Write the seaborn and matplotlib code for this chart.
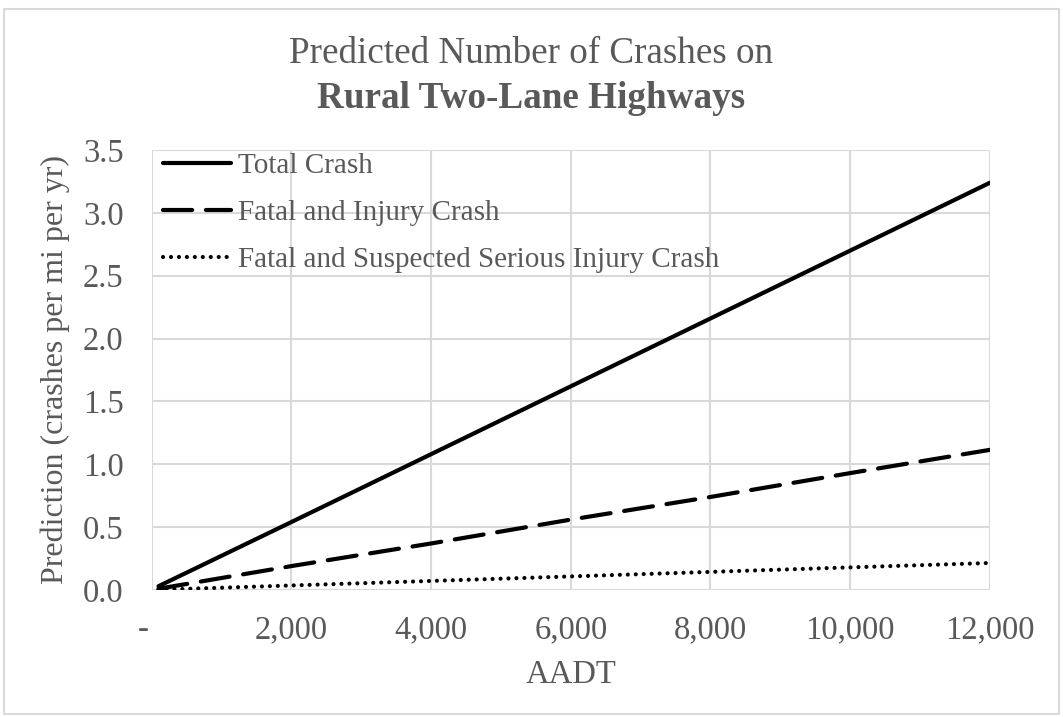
import matplotlib
matplotlib.use("Agg")
import matplotlib.pyplot as plt
import seaborn as sns
import pandas as pd
from matplotlib.patches import Rectangle
from matplotlib.ticker import FuncFormatter

aadt = [100, 2000, 4000, 6000, 8000, 10000, 12000]
total_crash = [0.03, 0.54, 1.08, 1.62, 2.16, 2.70, 3.24]
fatal_injury = [0.01, 0.19, 0.37, 0.56, 0.74, 0.93, 1.115]
fatal_serious = [0.002, 0.036, 0.072, 0.108, 0.144, 0.18, 0.215]
series_names = ["Total Crash", "Fatal and Injury Crash",
                "Fatal and Suspected Serious Injury Crash"]
x_ticks = [0, 2000, 4000, 6000, 8000, 10000, 12000]
y_ticks = [0.0, 0.5, 1.0, 1.5, 2.0, 2.5, 3.0, 3.5]

sns.set_theme(style="white")
plt.rcParams['font.family'] = ['Liberation Serif', 'DejaVu Serif']

rows = []
for name, vals in zip(series_names, [total_crash, fatal_injury, fatal_serious]):
    for x, y in zip(aadt, vals):
        rows.append({"AADT": x, "Prediction": y, "Series": name})
df = pd.DataFrame(rows)

W, H = 1063, 717
fig = plt.figure(figsize=(W / 100, H / 100), dpi=100)
ax_l, ax_r, ax_t, ax_b = 151.5, 990, 150, 590
ax = fig.add_axes([ax_l / W, 1 - ax_b / H, (ax_r - ax_l) / W, (ax_b - ax_t) / H])

txt = "#595959"
grid = "#d9d9d9"

dash_map = {series_names[0]: "", series_names[1]: (7, 3.3),
            series_names[2]: (0.01, 1.9)}
sns.lineplot(data=df, x="AADT", y="Prediction", hue="Series", style="Series",
             palette=["black"] * 3, dashes=dash_map,
             linewidth=3, ax=ax, legend=True)
for line in ax.get_lines():
    line.set_solid_capstyle("round")
    line.set_dash_capstyle("round")

ax.set_xlim(0, 12000)
ax.set_ylim(0, 3.5)
ax.set_xticks(x_ticks)
ax.set_yticks(y_ticks)
ax.xaxis.set_major_formatter(FuncFormatter(lambda v, p: "-  " if v == 0 else f"{int(v):,}"))
ax.yaxis.set_major_formatter(FuncFormatter(lambda v, p: f"{v:.1f}"))
ax.grid(True, color=grid, linewidth=1.5)
ax.set_axisbelow(True)
for s in ax.spines.values():
    s.set_visible(False)
ax.tick_params(axis="both", length=0, labelsize=23.5, colors=txt)
ax.tick_params(axis="x", pad=18)
ax.tick_params(axis="y", pad=20)

ax.set_xlabel("AADT", fontsize=23.5, color=txt, labelpad=10)
ax.set_ylabel("Prediction (crashes per mi per yr)", fontsize=23, color=txt)
ax.yaxis.set_label_coords(-0.097, 0.5)

handles, labels = ax.get_legend_handles_labels()
for h in handles:
    h.set_linewidth(3)
    h.set_dash_capstyle("round")
leg = ax.legend(handles, labels, loc="upper left", frameon=False, fontsize=21,
                handlelength=2.33, handletextpad=0.24, labelspacing=0.7,
                borderaxespad=0.0, bbox_to_anchor=(0.0, 1.02))
for t in leg.get_texts():
    t.set_color(txt)

fig.text(0.5, 1 - 63 / H, "Predicted Number of Crashes on", ha="center", va="baseline",
         fontsize=26.7, color=txt)
fig.text(0.5, 1 - 108 / H, "Rural Two-Lane Highways", ha="center", va="baseline",
         fontsize=26.7, color=txt, fontweight="bold")

fig.patches.append(Rectangle((0.004, 0.004), 0.992, 0.983, transform=fig.transFigure,
                             fill=False, edgecolor=grid, linewidth=1.5))

fig.savefig("out.png", dpi=100)
